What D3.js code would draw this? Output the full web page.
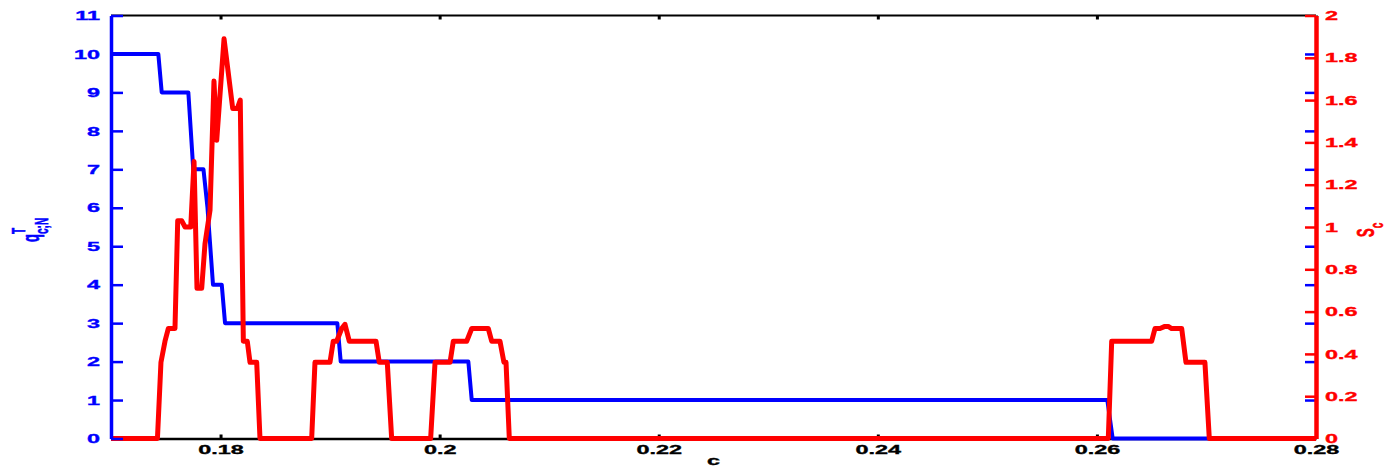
<!DOCTYPE html>
<html>
<head>
<meta charset="utf-8">
<script src="https://cdn.jsdelivr.net/npm/d3@7"></script>
<style>
  html, body { margin: 0; padding: 0; background: #fff; }
  svg { display: block; }
  text { font-family: "Liberation Sans", Arial, Helvetica, sans-serif; font-weight: bold; }
</style>
</head>
<body>
<svg id="chart" width="1393" height="471"></svg>
<script>
// c grid where each series changes slope
const qC = [0.17, 0.17432, 0.17463, 0.17706, 0.17751, 0.17844, 0.17881, 0.17931,
            0.18011, 0.18041, 0.19066, 0.19097, 0.20262, 0.20293, 0.26095, 0.26144, 0.28];
// q^T_{c;N} (left axis)
const qVal = [10, 10, 9, 9, 7, 7, 6, 4,
              4, 3, 3, 2, 2, 1, 1, 0, 0];

const sC = [0.17, 0.17424, 0.17456, 0.17493, 0.17523, 0.17584, 0.17609, 0.17645, 0.17676,
            0.17728, 0.17758, 0.17785, 0.17828, 0.17858, 0.17904, 0.17940, 0.17965, 0.18032,
            0.18111, 0.18153, 0.18180, 0.18208, 0.18244, 0.18269, 0.18330, 0.18360,
            0.18832, 0.18862, 0.18999, 0.19029, 0.19060, 0.19106, 0.19136, 0.19175,
            0.19419, 0.19449, 0.19522, 0.19562,
            0.19918, 0.19958, 0.20095, 0.20125, 0.20247, 0.20293, 0.20444, 0.20475,
            0.20551, 0.20587, 0.20606, 0.20636,
            0.26104, 0.26135, 0.26500, 0.26530, 0.26576, 0.26621, 0.26651, 0.26682,
            0.26774, 0.26813, 0.26986, 0.27026, 0.28];
// S_c (right axis)
const sVal = [0, 0, 0.36, 0.46, 0.52, 0.52, 1.03, 1.03, 1.0,
              1.0, 1.31, 0.71, 0.71, 0.92, 1.08, 1.69, 1.41, 1.89,
              1.56, 1.56, 1.60, 0.46, 0.46, 0.36, 0.36, 0,
              0, 0.36, 0.36, 0.46, 0.46, 0.52, 0.54, 0.46,
              0.46, 0.36, 0.36, 0,
              0, 0.36, 0.36, 0.46, 0.46, 0.52, 0.52, 0.46,
              0.46, 0.36, 0.36, 0,
              0, 0.46, 0.46, 0.52, 0.52, 0.53, 0.53, 0.52,
              0.52, 0.36, 0.36, 0, 0];

const xTicks = [0.18, 0.2, 0.22, 0.24, 0.26, 0.28];
const xTickLabels = ["0.18", "0.2", "0.22", "0.24", "0.26", "0.28"];
const leftTicks = [0, 1, 2, 3, 4, 5, 6, 7, 8, 9, 10, 11];
const rightTicks = [0, 0.2, 0.4, 0.6, 0.8, 1, 1.2, 1.4, 1.6, 1.8, 2];
const rightTickLabels = ["0", "0.2", "0.4", "0.6", "0.8", "1", "1.2", "1.4", "1.6", "1.8", "2"];

const BLUE = "#0000ff", RED = "#ff0000";
const SX = 1.8;           // horizontal stretch of the glyphs
const FS = 13;
const TW = 0.35;          // extra glyph weight

const svg = d3.select("#chart");
const L = 111, R = 1316, T = 15.5, B = 438.5;

const x = d3.scaleLinear().domain([0.17, 0.28]).range([L, R]);
const yL = d3.scaleLinear().domain([0, 11]).range([B, T]);
const yR = d3.scaleLinear().domain([0, 2]).range([B, T]);

function weigh(sel, color) {
  sel.attr("fill", color).attr("stroke", color).attr("stroke-width", TW)
    .attr("font-size", FS).attr("font-family", null);
}

// frame: top edge
svg.append("line").attr("x1", L).attr("x2", R).attr("y1", T).attr("y2", T)
  .attr("stroke", "#000").attr("stroke-width", 2);

// bottom x axis
const gx = svg.append("g").attr("transform", `translate(0,${B})`)
  .call(d3.axisBottom(x).tickValues(xTicks).tickFormat((d, i) => xTickLabels[i])
    .tickSizeInner(-4).tickSizeOuter(0).tickPadding(6));
gx.select(".domain").attr("stroke", "#000").attr("stroke-width", 2.5);
gx.selectAll(".tick line").attr("stroke", "#000").attr("stroke-width", 3);
gx.selectAll(".tick text").call(weigh, "#000").attr("x", 0)
  .attr("transform", `scale(${SX},1)`);

// top x ticks
const gxt = svg.append("g").attr("transform", `translate(0,${T})`)
  .call(d3.axisTop(x).tickValues(xTicks).tickFormat("").tickSizeInner(-4).tickSizeOuter(0));
gxt.select(".domain").remove();
gxt.selectAll(".tick line").attr("stroke", "#000").attr("stroke-width", 3);

// data lines
const lineQ = d3.line().x((d, i) => x(qC[i])).y(d => yL(d));
const lineS = d3.line().x((d, i) => x(sC[i])).y(d => yR(d));

svg.append("path").attr("d", lineQ(qVal)).attr("fill", "none")
  .attr("stroke", BLUE).attr("stroke-width", 4).attr("stroke-linejoin", "round");
svg.append("path").attr("d", lineS(sVal)).attr("fill", "none")
  .attr("stroke", RED).attr("stroke-width", 5).attr("stroke-linejoin", "round");

// left axis (q)
const gl = svg.append("g").attr("transform", `translate(${L},0)`)
  .call(d3.axisLeft(yL).tickValues(leftTicks).tickFormat(d3.format("d"))
    .tickSizeInner(-12).tickSizeOuter(0).tickPadding(11));
gl.select(".domain").attr("stroke", BLUE).attr("stroke-width", 3.5);
gl.selectAll(".tick line").attr("stroke", BLUE).attr("stroke-width", 2.5);
gl.selectAll(".tick text").call(weigh, BLUE)
  .attr("x", 0).attr("transform", `translate(-11,0) scale(${SX},1)`);

// left-axis ticks mirrored on the right edge
const glm = svg.append("g").attr("transform", `translate(${R},0)`)
  .call(d3.axisRight(yL).tickValues(leftTicks.slice(1, 11)).tickFormat("")
    .tickSizeInner(-11).tickSizeOuter(0));
glm.select(".domain").remove();
glm.selectAll(".tick line").attr("stroke", BLUE).attr("stroke-width", 2.5);

// right axis (S)
const gr = svg.append("g").attr("transform", `translate(${R},0)`)
  .call(d3.axisRight(yR).tickValues(rightTicks).tickFormat((d, i) => rightTickLabels[i])
    .tickSizeInner(-11).tickSizeOuter(0).tickPadding(9));
gr.select(".domain").attr("stroke", RED).attr("stroke-width", 4.5);
gr.selectAll(".tick line").attr("stroke", RED).attr("stroke-width", 2.5);
gr.selectAll(".tick text").call(weigh, RED)
  .attr("x", 0).attr("transform", `translate(9,0) scale(${SX},1)`);

// axis titles
svg.append("text").attr("transform", `translate(${(L + R) / 2},465) scale(${SX},1)`)
  .attr("text-anchor", "middle").call(weigh, "#000").text("c");

const ql = svg.append("text")
  .attr("transform", `translate(39,242) scale(${SX},1) rotate(-90)`)
  .attr("text-anchor", "start").call(weigh, BLUE);
ql.append("tspan").text("q");
ql.append("tspan").attr("font-size", 10).attr("dy", -8).text("T");
ql.append("tspan").attr("font-size", 10).attr("dx", -6).attr("dy", 13).text("c;N");

const sl = svg.append("text")
  .attr("transform", `translate(1374,237) scale(${SX},1) rotate(-90)`)
  .attr("text-anchor", "start").call(weigh, RED);
sl.append("tspan").text("S");
sl.append("tspan").attr("font-size", 10).attr("dy", 5).text("c");
</script>
</body>
</html>
